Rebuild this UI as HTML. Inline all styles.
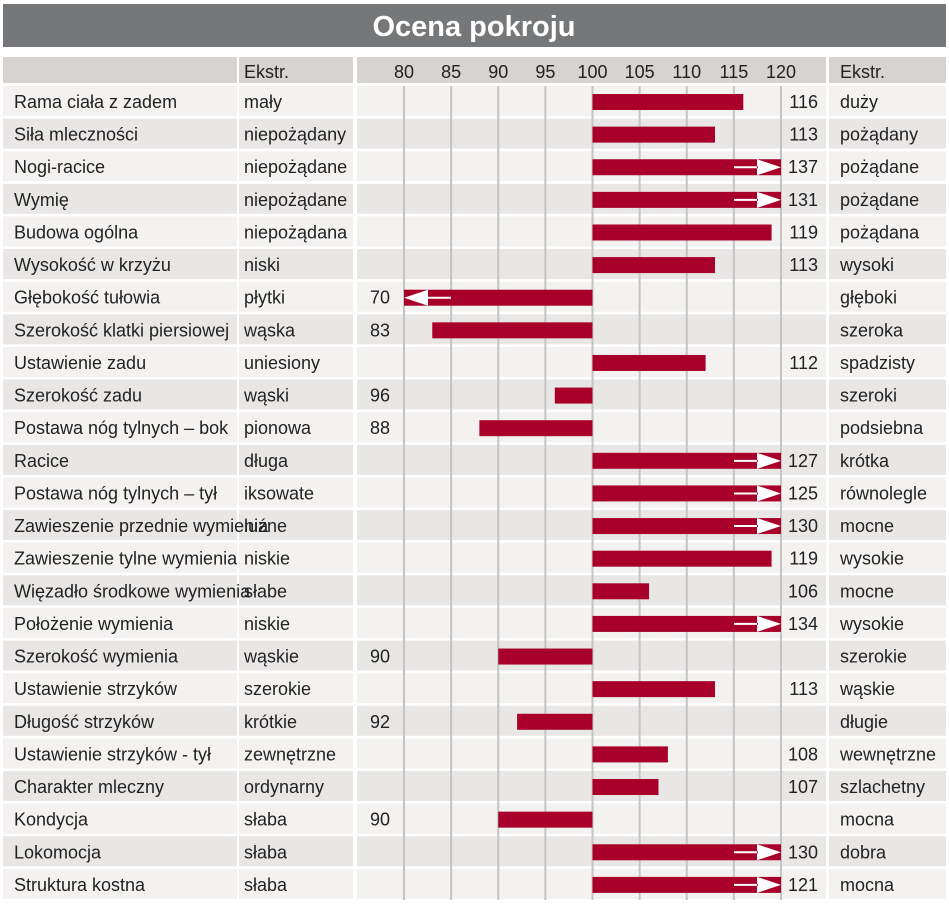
<!DOCTYPE html>
<html><head><meta charset="utf-8"><style>
body{margin:0;background:#fff;}
svg text{font-family:"Liberation Sans Narrow","Liberation Sans",sans-serif;fill:#222;}
</style></head><body>
<svg id="c" width="949" height="903" xmlns="http://www.w3.org/2000/svg">
<rect x="3" y="4" width="943" height="43" fill="#767778"/>
<text x="474" y="36" text-anchor="middle" font-size="29" font-weight="bold" style="fill:#fff">Ocena pokroju</text>
<g id="g"></g>
</svg>
<script>
const labels=["Rama ciała z zadem","Siła mleczności","Nogi-racice","Wymię","Budowa ogólna","Wysokość w krzyżu","Głębokość tułowia","Szerokość klatki piersiowej","Ustawienie zadu","Szerokość zadu","Postawa nóg tylnych –  bok","Racice","Postawa nóg tylnych –  tył","Zawieszenie przednie wymienia","Zawieszenie tylne wymienia","Więzadło środkowe wymienia","Położenie wymienia","Szerokość wymienia","Ustawienie strzyków","Długość strzyków","Ustawienie strzyków - tył","Charakter mleczny","Kondycja","Lokomocja","Struktura kostna"];
const leftExtr=["mały","niepożądany","niepożądane","niepożądane","niepożądana","niski","płytki","wąska","uniesiony","wąski","pionowa","długa","iksowate","luźne","niskie","słabe","niskie","wąskie","szerokie","krótkie","zewnętrzne","ordynarny","słaba","słaba","słaba"];
const rightExtr=["duży","pożądany","pożądane","pożądane","pożądana","wysoki","głęboki","szeroka","spadzisty","szeroki","podsiebna","krótka","równolegle","mocne","wysokie","mocne","wysokie","szerokie","wąskie","długie","wewnętrzne","szlachetny","mocna","dobra","mocna"];
const values=[116,113,137,131,119,113,70,83,112,96,88,127,125,130,119,106,134,90,113,92,108,107,90,130,121];
const ticks=[80,85,90,95,100,105,110,115,120];
const g=document.getElementById('g');
const NS="http://www.w3.org/2000/svg";
const x=v=>404+(v-80)*(781-404)/40;
const rowY=i=>86+i*32.62;
function mk(t,a,txt){const e=document.createElementNS(NS,t);for(const k in a)e.setAttribute(k,a[k]);if(txt!=null)e.textContent=txt;g.appendChild(e);return e;}
const cols=[[3,234],[239,114],[357,469],[829,117]];
// header
cols.forEach((c,j)=>{const r=mk('rect',{x:c[0],y:57,width:c[1],height:26,fill:'#d6d3d1'});

});
let t=mk('text',{x:244,y:78,'font-size':18},'Ekstr.');


t=mk('text',{x:840,y:78,'font-size':18},'Ekstr.');


ticks.forEach(v=>{const e=mk('text',{x:x(v),y:78,'font-size':18,'text-anchor':'middle'},v);

});
// rows
labels.forEach((l,i)=>{const y=rowY(i);const fill=i%2?'#e9e7e6':'#f3f2f1';
cols.forEach(c=>{const r=mk('rect',{x:c[0],y:y,width:c[1],height:30,fill:fill});

});});
ticks.forEach(v=>{const l=mk('line',{x1:x(v),x2:x(v),y1:86,y2:900,stroke:'#c4c4c4','stroke-width':2});

});
labels.forEach((l,i)=>{const cy=rowY(i)+16;const v=values[i];
let e=mk('text',{x:14,y:cy+6,'font-size':18},l);


e=mk('text',{x:244,y:cy+6,'font-size':18},leftExtr[i]);


e=mk('text',{x:840,y:cy+6,'font-size':18},rightExtr[i]);


const cv=Math.max(80,Math.min(120,v));
const x0=Math.min(x(100),x(cv)),w=Math.abs(x(cv)-x(100));
const b=mk('rect',{x:x0,y:cy-8,width:w,height:16,fill:'#a8002a'});


if(v>120){const a=mk('path',{d:`M${x(120)} ${cy} L${x(120)-24} ${cy-8} L${x(120)-24} ${cy+8} Z M${x(120)-47} ${cy-1} h24 v2 h-24 Z`,fill:'#fff'});

}
if(v<80){const a=mk('path',{d:`M${x(80)} ${cy} L${x(80)+24} ${cy-8} L${x(80)+24} ${cy+8} Z M${x(80)+23} ${cy-1} h24 v2 h-24 Z`,fill:'#fff'});

}
const vt=v>=100?mk('text',{x:818,y:cy+6,'font-size':18,'text-anchor':'end'},v):mk('text',{x:390,y:cy+6,'font-size':18,'text-anchor':'end'},v);

});
</script>
</body></html>
